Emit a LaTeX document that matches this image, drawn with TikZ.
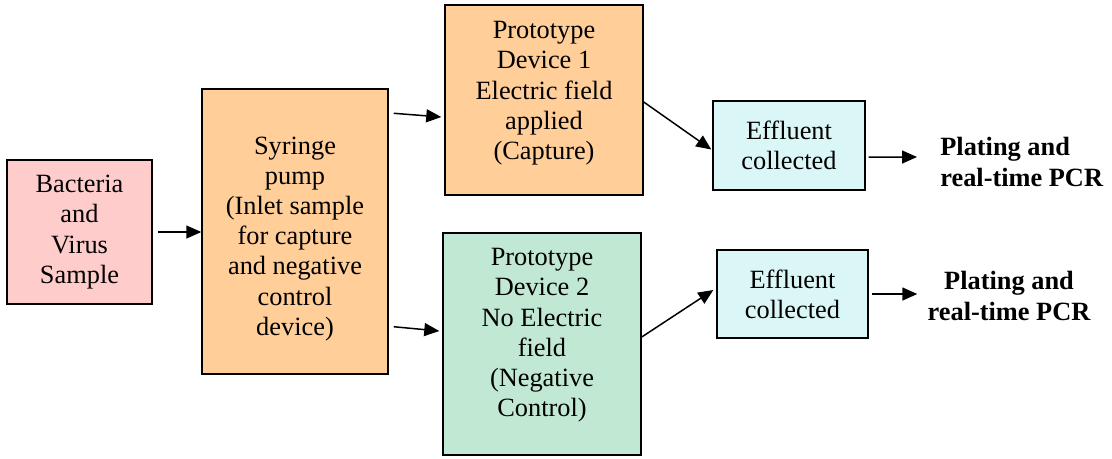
\documentclass[tikz,border=0pt]{standalone}
\usepackage{fontspec}
\setmainfont{Liberation Serif}
\usepackage{xcolor}
\usetikzlibrary{
  arrows.meta,
  calc,
  positioning
}
\definecolor{samplepink}{RGB}{255,204,204}
\definecolor{pumporange}{RGB}{255,206,153}
\definecolor{controlgreen}{RGB}{192,232,210}
\definecolor{effluentcyan}{RGB}{218,246,246}
\tikzset{
  stagebox/.style={draw=black, line width=0.85pt, align=center, inner sep=0pt,
    font=\fontsize{15}{17.2}\selectfont},
  flowarrow/.style={-{Triangle[length=0.3cm,width=0.26cm]}, line width=0.85pt},
  resulttext/.style={inner sep=0pt, font=\fontsize{15}{17.6}\selectfont\bfseries}
}

\begin{document}
\begin{tikzpicture}[x=0.02cm, y=-0.02cm]
  \useasboundingbox (0,0) rectangle (1112,458);

  % sample and pump
  \node[stagebox, fill=samplepink, minimum width=2.9cm, minimum height=2.88cm]
    (sample) at (79.5,232) {Bacteria\\and\\Virus\\Sample};
  \node[stagebox, fill=pumporange, minimum width=3.72cm, minimum height=5.7cm]
    (pump) at (295,231.5)
    {\rule{0pt}{0.64cm}Syringe\\pump\\(Inlet sample\\for capture\\and negative\\control\\device)};

  % prototype devices
  \node[stagebox, fill=pumporange, minimum width=3.96cm, minimum height=3.8cm,
        text depth=0.38cm] (dev1) at (544,100)
    {Prototype\\Device 1\\Electric field\\applied\\(Capture)};
  \node[stagebox, fill=controlgreen, minimum width=3.96cm, minimum height=4.44cm,
        text depth=0.46cm] (dev2) at (542,344)
    {Prototype\\Device 2\\No Electric\\field\\(Negative\\Control)};

  % effluent
  \node[stagebox, fill=effluentcyan, minimum width=3.04cm, minimum height=1.78cm]
    (eff1) at (789,145.5) {Effluent\\collected};
  \node[stagebox, fill=effluentcyan, minimum width=3.02cm, minimum height=1.76cm]
    (eff2) at (792.5,294) {Effluent\\collected};

  % results
  \node[resulttext, align=left, anchor=west] (plate1) at (940,162)
    {Plating and\\real-time PCR};
  \node[resulttext, align=center] (plate2) at (1009,296)
    {Plating and\\real-time PCR};

  % connectors
  \draw[flowarrow] ([xshift=3]sample.east) -- (pump.west |- sample.east);
  \draw[flowarrow] ([shift={(5,25)}]pump.north east) -- ([shift={(-3,17)}]dev1.west);
  \draw[flowarrow] ([shift={(5,-48)}]pump.south east) -- ([shift={(-3,-13)}]dev2.west);
  \draw[flowarrow] ([shift={(0,2)}]dev1.east) -- ([shift={(-1,4)}]eff1.west);
  \draw[flowarrow] ([shift={(0,-7)}]dev2.east) -- ([shift={(-3,-4)}]eff2.west);
  \draw[flowarrow] ([shift={(3,11.5)}]eff1.east) -- ([shift={(-23,-5)}]plate1.west);
  \draw[flowarrow] ([shift={(3,0)}]eff2.east) -- ([shift={(-10,-2)}]plate2.west);

\end{tikzpicture}
\end{document}
